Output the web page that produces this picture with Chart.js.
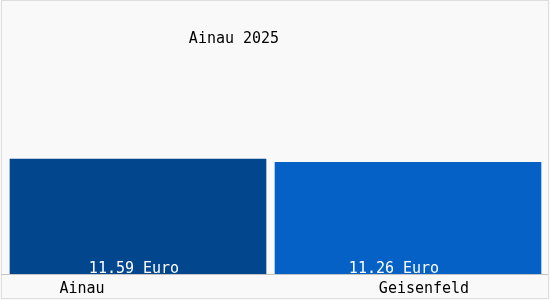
<!DOCTYPE html>
<html>
<head>
<meta charset="utf-8">
<script src="https://cdn.jsdelivr.net/npm/chart.js@4/dist/chart.umd.min.js"></script>
<style>
  html, body { margin: 0; padding: 0; background: #f9f9f9; }
  #wrap { width: 550px; height: 300px; }
</style>
</head>
<body>
<div id="wrap"><canvas id="c" width="550" height="300"></canvas></div>
<script>
// data
var chartTitle = "Ainau 2025";
var categories = ["Ainau", "Geisenfeld"];
var wages = [11.59, 11.26];
var unit = "Euro";

var barColors = ["#02478e", "#0561c6"];
var barWidths = [256, 266];
var FONT = "15px 'DejaVu Sans Mono', monospace";

// one dataset per town so each bar gets its own width
var datasets = categories.map(function(name, i) {
  return {
    label: name,
    data: wages.map(function(v, j) { return j === i ? v : null; }),
    backgroundColor: barColors[i],
    barThickness: barWidths[i],
    stack: "s"
  };
});

var decor = {
  id: "decor",
  beforeDraw: function(chart) {
    var ctx = chart.ctx;
    ctx.save();
    ctx.fillStyle = "#f9f9f9";
    ctx.fillRect(0, 0, chart.width, chart.height);
    ctx.strokeStyle = "#dedede";
    ctx.lineWidth = 1;
    ctx.strokeRect(1.5, 0.5, chart.width - 3, chart.height - 2);
    ctx.restore();
  },
  afterDatasetsDraw: function(chart) {
    var ctx = chart.ctx;
    var area = chart.chartArea;
    var xs = chart.scales.x;
    ctx.save();
    // base line
    ctx.strokeStyle = "#c4c4c4";
    ctx.lineWidth = 1;
    ctx.beginPath();
    ctx.moveTo(1, area.bottom + 0.5);
    ctx.lineTo(chart.width - 2, area.bottom + 0.5);
    ctx.stroke();

    ctx.font = FONT;
    ctx.textAlign = "center";
    ctx.textBaseline = "alphabetic";

    // value labels inside the bars
    var valueShift = [-4, -14];
    ctx.fillStyle = "#ffffff";
    datasets.forEach(function(ds, i) {
      var bar = chart.getDatasetMeta(i).data[i];
      ctx.fillText(wages[i].toFixed(2) + " " + unit, bar.x + valueShift[i], bar.base - 1);
    });

    // category labels
    var labelShift = [-56, 16];
    ctx.fillStyle = "#000000";
    categories.forEach(function(name, i) {
      ctx.fillText(name, xs.getPixelForValue(i) + labelShift[i], area.bottom + 19);
    });

    // title
    ctx.fillText(chartTitle, 234, 43);
    ctx.restore();
  }
};

new Chart(document.getElementById("c").getContext("2d"), {
  type: "bar",
  data: { labels: categories, datasets: datasets },
  options: {
    responsive: false,
    animation: false,
    layout: { padding: { left: 3, right: 7, top: 26, bottom: 26 } },
    plugins: {
      legend: { display: false },
      title: { display: false },
      tooltip: { enabled: false }
    },
    scales: {
      x: { display: false, stacked: true },
      y: { display: false, stacked: true, min: 0, max: 25 }
    }
  },
  plugins: [decor]
});
</script>
</body>
</html>
